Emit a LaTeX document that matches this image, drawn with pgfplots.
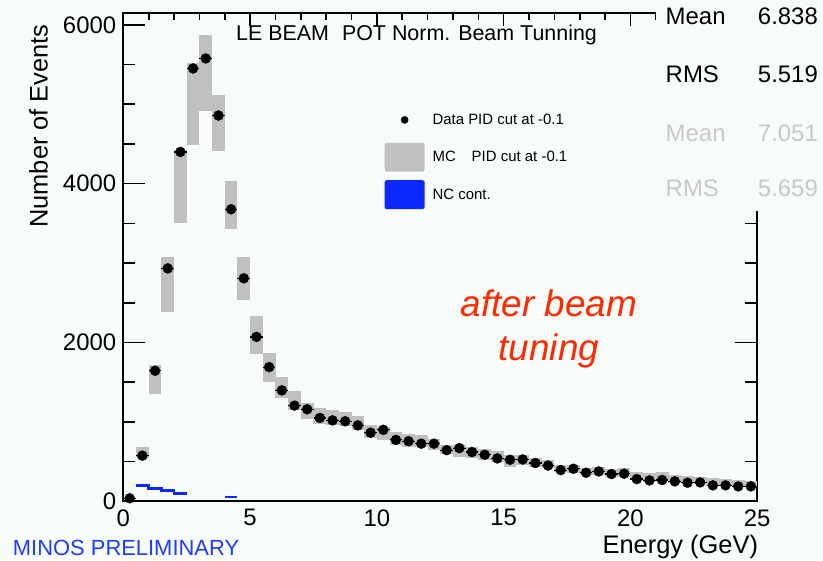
\documentclass[border=0pt]{standalone}
\usepackage{fontspec}
\setmainfont{Liberation Sans}
\usepackage{pgfplots}
\pgfplotsset{compat=1.18}
\usepackage{pgfplotstable}
\definecolor{bg}{RGB}{248,252,248}
\definecolor{mcgray}{RGB}{192,192,192}
\definecolor{statgray}{RGB}{200,200,200}
\definecolor{ncblue}{RGB}{10,40,255}
\definecolor{minosblue}{RGB}{30,60,255}
\definecolor{tunred}{RGB}{255,40,0}

\pgfplotstableread{
x y
0.25 38
0.75 575
1.25 1644
1.75 2933
2.25 4400
2.75 5451
3.25 5577
3.75 4858
4.25 3678
4.75 2808
5.25 2070
5.75 1690
6.25 1397
6.75 1205
7.25 1159
7.75 1050
8.25 1019
8.75 1008
9.25 956
9.75 864
10.25 900
10.75 774
11.25 757
11.75 726
12.25 726
12.75 644
13.25 670
13.75 620
14.25 586
14.75 540
15.25 523
15.75 527
16.25 482
16.75 450
17.25 393
17.75 410
18.25 360
18.75 376
19.25 343
19.75 348
20.25 280
20.75 263
21.25 268
21.75 251
22.25 234
22.75 238
23.25 201
23.75 201
24.25 188
24.75 188
}\datatab

% MC band per bin: bin centre, lower edge, upper edge
\pgfplotstableread{
x lo hi
0.75 540 686
1.25 1356 1711
1.75 2389 3071
2.25 3502 4422
2.75 4485 5519
3.25 4912 5874
3.75 4410 5121
4.25 3427 4033
4.75 2539 3071
5.25 1849 2339
5.75 1502 1866
6.25 1305 1569
6.75 1146 1385
7.25 1042 1240
7.75 979 1180
8.25 958 1146
8.75 950 1126
9.25 895 1071
9.75 791 958
10.25 770 937
10.75 707 875
11.25 686 853
11.75 686 832
12.25 644 782
12.75 590 715
13.25 561 715
13.75 548 686
14.25 519 657
14.75 490 632
15.25 435 582
15.75 460 582
16.25 427 540
16.75 414 519
17.25 372 456
17.75 351 456
18.25 330 425
18.75 330 435
19.25 310 406
19.75 310 423
20.25 268 372
20.75 247 351
21.25 268 372
21.75 235 330
22.25 226 322
22.75 217 310
23.25 197 289
23.75 192 276
24.25 184 268
24.75 176 259
}\mctab

\begin{document}
\pagecolor{bg}
\begin{tikzpicture}
\path (-121pt,-59pt) rectangle (702pt,503pt);
\begin{axis}[
  at={(0pt,0pt)}, anchor=south west,
  scale only axis, width=636pt, height=490pt,
  xmin=0, xmax=25, ymin=0, ymax=6150,
  xtick={0,5,...,25}, ytick={0,2000,4000,6000},
  minor x tick num=4, minor y tick num=3,
  tick align=inside,
  xtick pos=right, xticklabel pos=left,
  ytick pos=both, yticklabel pos=left,
  major tick length=22pt, minor tick length=12pt,
  xtick style={/pgfplots/major tick length=13pt, /pgfplots/minor tick length=7pt},
  every tick/.style={black, line width=1.6pt},
  axis line style={line width=2pt},
  tick label style={font=\fontsize{24}{24}\selectfont},
  /pgf/number format/assume math mode=true,
  /pgf/number format/1000 sep={},
  scaled y ticks=false,
  xticklabel style={inner sep=0pt, yshift=-8pt},
  yticklabel style={inner sep=0pt, xshift=-7pt},
  legend style={at={(0.412,0.811)}, anchor=north west, draw=none, fill=none,
    inner sep=0pt, font=\fontsize{15}{15}\selectfont, row sep=8.5pt,
    /tikz/every odd column/.append style={column sep=6pt}},
  legend cell align=left,
]
\addlegendimage{legend image code/.code={\path[draw=none,fill=none] (0pt,-14.5pt) rectangle (40pt,14.5pt); \fill[black] (20pt,0pt) circle (3.6pt);}}
\addlegendentry{Data PID cut at -0.1}
\addlegendimage{legend image code/.code={\fill[mcgray, draw=none, rounded corners=2pt] (0pt,-14.5pt) rectangle (40pt,14.5pt);}}
\addlegendentry{MC\hspace{16pt}PID cut at -0.1}
\addlegendimage{legend image code/.code={\fill[ncblue, draw=none, rounded corners=2pt] (0pt,-14.5pt) rectangle (40pt,14.5pt);}}
\addlegendentry{NC cont.}

% MC band: each bin drawn as a box spanning lo..hi, one bin (0.5 GeV) wide
\addplot[draw=none, no markers, forget plot,
  error bars/.cd, y dir=minus, y explicit, error mark=none,
  error bar style={draw=mcgray, line width=12.8pt, line cap=butt}]
  table[x=x, y=hi, y error minus expr=\thisrow{hi}-\thisrow{lo}]{\mctab};

\addplot[const plot, ncblue, line width=2.6pt, forget plot] coordinates {(0.5,197) (1.0,163) (1.5,138) (2.0,100) (2.5,100)};
\addplot[ncblue, line width=1.5pt, forget plot] coordinates {(4.0,54) (4.5,54)};

\addplot[only marks, mark=*, mark size=5pt, black, forget plot,
  error bars/.cd, x dir=both, x fixed=0.25, error mark=none,
  error bar style={line width=1.2pt, black}] table[x=x,y=y]{\datatab};
\end{axis}

\fill[bg] (534pt,291pt) rectangle (702pt,503pt);
\begin{scope}[every node/.style={inner sep=0pt, font=\fontsize{24}{24}\selectfont}]
\node[anchor=base west] at (544pt,478pt) {Mean};
\node[anchor=base east] at (697pt,478pt) {6.838};
\node[anchor=base west] at (544pt,420pt) {RMS};
\node[anchor=base east] at (697pt,420pt) {5.519};
\node[anchor=base west, text=statgray] at (544pt,361pt) {Mean};
\node[anchor=base east, text=statgray] at (697pt,361pt) {7.051};
\node[anchor=base west, text=statgray] at (544pt,306pt) {RMS};
\node[anchor=base east, text=statgray] at (697pt,306pt) {5.659};
\end{scope}

\node[anchor=base west, inner sep=0pt, font=\fontsize{21.5}{21.5}\selectfont] at (113pt,462pt) {LE BEAM\hspace{13pt}POT Norm. Beam Tunning};
\node[anchor=base, inner sep=0pt, text=tunred, font=\fontsize{37}{37}\selectfont\itshape] at (427pt,185pt) {after beam};
\node[anchor=base, inner sep=0pt, text=tunred, font=\fontsize{37}{37}\selectfont\itshape] at (427pt,141pt) {tuning};
\node[rotate=90, anchor=base, inner sep=0pt, font=\fontsize{25.5}{25.5}\selectfont] at (-76pt,376.5pt) {Number of Events};
\node[anchor=base east, inner sep=0pt, font=\fontsize{25.5}{25.5}\selectfont] at (637pt,-52pt) {Energy (GeV)};
\node[anchor=base west, inner sep=0pt, text=minosblue, font=\fontsize{22}{22}\selectfont] at (-111pt,-54pt) {MINOS PRELIMINARY};
\end{tikzpicture}
\end{document}
